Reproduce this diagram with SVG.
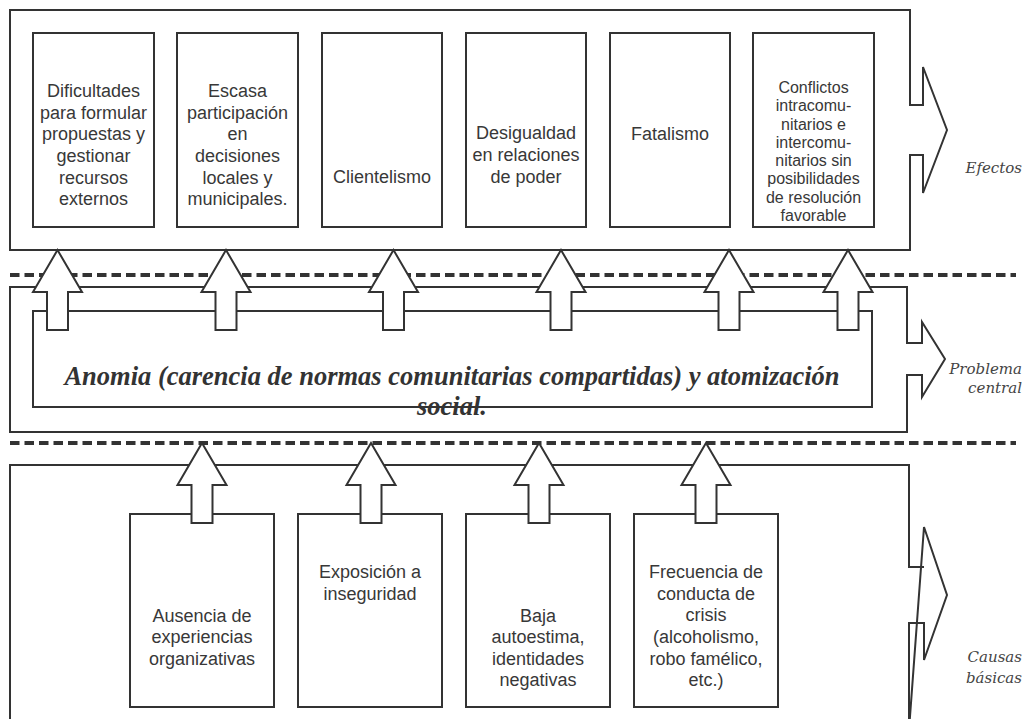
<svg xmlns="http://www.w3.org/2000/svg" xmlns:xlink="http://www.w3.org/1999/xlink" width="1026" height="719" viewBox="0 0 1026 719">
<style>
.panel{fill:none;stroke:#333;stroke-width:2}
.box{fill:#fff;stroke:#333;stroke-width:2}
.dash{stroke:#333;stroke-width:4;stroke-dasharray:9.5 5;fill:none}
.arrow{fill:#fff;stroke:#333;stroke-width:2;stroke-linejoin:miter}
.t{font-family:"Liberation Sans",Arial,sans-serif;font-size:18px;fill:#383838;text-anchor:middle}
.ts{font-family:"Liberation Sans",Arial,sans-serif;font-size:16px;fill:#383838;text-anchor:middle}
.lab{font-family:"DejaVu Serif",serif;font-style:italic;font-size:15px;fill:#444;text-anchor:end}
.central{font-family:"Liberation Serif","Times New Roman",serif;font-style:italic;font-weight:bold;font-size:26.5px;fill:#333;text-anchor:middle}
</style>
<defs>
<path id="up" d="M0,0 L24.5,42 L10.5,42 L10.5,80 L-10.5,80 L-10.5,42 L-24.5,42 Z"/>
</defs>
<rect width="1026" height="719" fill="#fff"/>

<g id="panel-efectos">
<path class="panel" d="M923,105 L910,105 L910,10 L10,10 L10,250 L910,250 L910,155 L923,155 L923,193 L947,130 L923,67 Z"/>
<text class="lab" x="1022" y="173">Efectos</text>
</g>
<g id="panel-problema">
<path class="panel" d="M922,343 L907,343 L907,287 L10,287 L10,432 L907,432 L907,375 L922,375 L922,397 L945,359 L922,322 Z"/>
<text class="lab" x="1022" y="374">Problema</text>
<text class="lab" x="1022" y="393">central</text>
</g>
<g id="panel-causas">
<path class="panel" d="M924,567 L909,567 L909,465 L10,465 L10,730 M909,730 L909,623 L924,623 L924,660 L947,595 L924,527 Z"/>
<text class="lab" x="1022" y="662">Causas</text>
<text class="lab" x="1022" y="683">básicas</text>
</g>

<g id="separators">
<line class="dash" x1="10" y1="275" x2="1016" y2="275"/>
<line class="dash" x1="10" y1="443" x2="1016" y2="443"/>
</g>

<g id="efecto-1">
<rect class="box" x="33" y="33" width="121" height="194"/>
<text class="t"><tspan x="93.5" y="97">Dificultades</tspan><tspan x="93.5" y="119">para formular</tspan><tspan x="93.5" y="140">propuestas y</tspan><tspan x="93.5" y="162">gestionar</tspan><tspan x="93.5" y="184">recursos</tspan><tspan x="93.5" y="205">externos</tspan></text>
</g>
<g id="efecto-2">
<rect class="box" x="177" y="33" width="121" height="194"/>
<text class="t"><tspan x="237.5" y="97">Escasa</tspan><tspan x="237.5" y="119">participación</tspan><tspan x="237.5" y="140">en</tspan><tspan x="237.5" y="162">decisiones</tspan><tspan x="237.5" y="184">locales y</tspan><tspan x="237.5" y="205">municipales.</tspan></text>
</g>
<g id="efecto-3">
<rect class="box" x="322" y="33" width="120" height="194"/>
<text class="t" x="382" y="183">Clientelismo</text>
</g>
<g id="efecto-4">
<rect class="box" x="466" y="33" width="120" height="194"/>
<text class="t"><tspan x="526" y="139">Desigualdad</tspan><tspan x="526" y="161">en relaciones</tspan><tspan x="526" y="183">de poder</tspan></text>
</g>
<g id="efecto-5">
<rect class="box" x="610" y="33" width="120" height="194"/>
<text class="t" x="670" y="140">Fatalismo</text>
</g>
<g id="efecto-6">
<rect class="box" x="753" y="33" width="121" height="194"/>
<text class="ts"><tspan x="813.5" y="93">Conflictos</tspan><tspan x="813.5" y="111">intracomu-</tspan><tspan x="813.5" y="130">nitarios e</tspan><tspan x="813.5" y="148">intercomu-</tspan><tspan x="813.5" y="166">nitarios sin</tspan><tspan x="813.5" y="184">posibilidades</tspan><tspan x="813.5" y="203">de resolución</tspan><tspan x="813.5" y="221">favorable</tspan></text>
</g>

<g id="problema-central">
<text class="central"><tspan x="452" y="385">Anomia (carencia de normas comunitarias compartidas) y atomización</tspan><tspan x="452" y="415">social.</tspan></text>
<rect class="panel" x="33" y="311" width="839" height="96"/>
</g>

<g id="causa-1">
<rect class="box" x="130" y="514" width="144" height="193"/>
<text class="t"><tspan x="202" y="622">Ausencia de</tspan><tspan x="202" y="643">experiencias</tspan><tspan x="202" y="665">organizativas</tspan></text>
</g>
<g id="causa-2">
<rect class="box" x="298" y="514" width="144" height="193"/>
<text class="t"><tspan x="370" y="578">Exposición a</tspan><tspan x="370" y="600">inseguridad</tspan></text>
</g>
<g id="causa-3">
<rect class="box" x="466" y="514" width="144" height="193"/>
<text class="t"><tspan x="538" y="622">Baja</tspan><tspan x="538" y="643">autoestima,</tspan><tspan x="538" y="665">identidades</tspan><tspan x="538" y="686">negativas</tspan></text>
</g>
<g id="causa-4">
<rect class="box" x="634" y="514" width="144" height="193"/>
<text class="t"><tspan x="706" y="578">Frecuencia de</tspan><tspan x="706" y="600">conducta de</tspan><tspan x="706" y="621">crisis</tspan><tspan x="706" y="643">(alcoholismo,</tspan><tspan x="706" y="665">robo famélico,</tspan><tspan x="706" y="686">etc.)</tspan></text>
</g>

<g id="connectors">
<use class="arrow" xlink:href="#up" href="#up" transform="translate(57.5,250)"/>
<use class="arrow" xlink:href="#up" href="#up" transform="translate(226,250)"/>
<use class="arrow" xlink:href="#up" href="#up" transform="translate(393.5,250)"/>
<use class="arrow" xlink:href="#up" href="#up" transform="translate(561,250)"/>
<use class="arrow" xlink:href="#up" href="#up" transform="translate(729,250)"/>
<use class="arrow" xlink:href="#up" href="#up" transform="translate(848,250)"/>
<use class="arrow" xlink:href="#up" href="#up" transform="translate(202,443)"/>
<use class="arrow" xlink:href="#up" href="#up" transform="translate(371,443)"/>
<use class="arrow" xlink:href="#up" href="#up" transform="translate(539,443)"/>
<use class="arrow" xlink:href="#up" href="#up" transform="translate(706,443)"/>
</g>
</svg>
